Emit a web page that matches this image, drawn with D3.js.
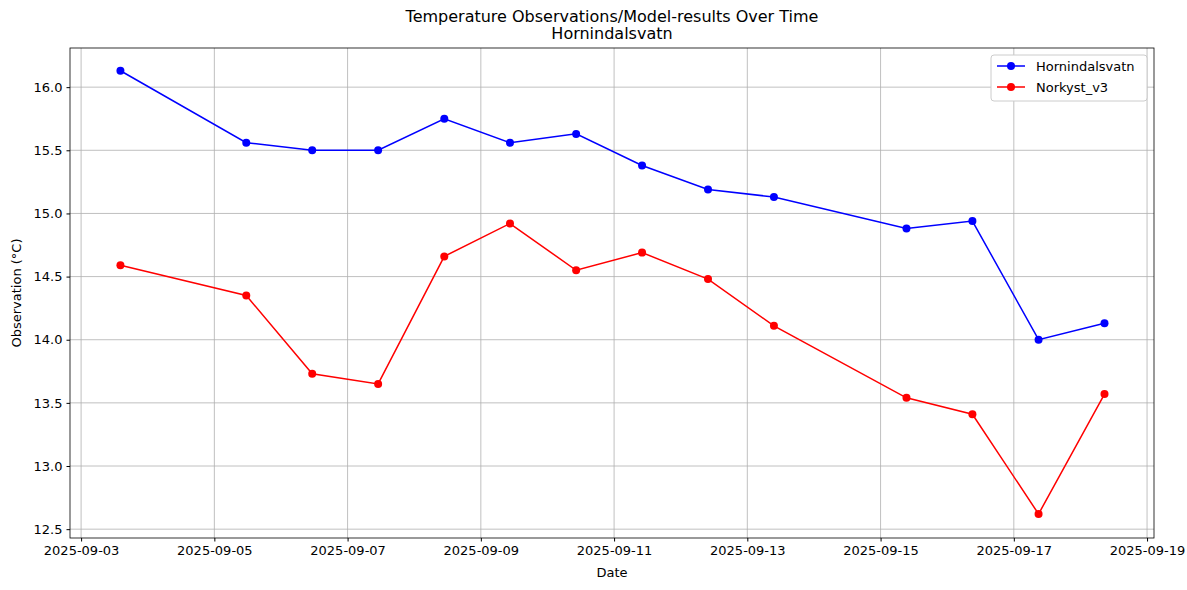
<!DOCTYPE html>
<html><head><meta charset="utf-8">
<script src="https://cdn.jsdelivr.net/npm/d3@7"></script>
<style>body{margin:0;background:#fff}text{font-family:"DejaVu Sans",sans-serif;fill:#000}</style>
</head><body><svg id="c" width="1187" height="590"></svg>
<script>
const dates=["2025-09-03T14:10","2025-09-05T11:30","2025-09-06T11:15","2025-09-07T11:00","2025-09-08T10:50","2025-09-09T10:30","2025-09-10T10:20","2025-09-11T10:05","2025-09-12T09:50","2025-09-13T09:35","2025-09-15T09:20","2025-09-16T09:05","2025-09-17T08:55","2025-09-18T08:40"];
const horn=[16.13,15.56,15.50,15.50,15.75,15.56,15.63,15.38,15.19,15.13,14.88,14.94,14.00,14.13];
const nork=[14.59,14.35,13.73,13.65,14.66,14.92,14.55,14.69,14.48,14.11,13.54,13.41,12.62,13.57];
const xTicks=["2025-09-03","2025-09-05","2025-09-07","2025-09-09","2025-09-11","2025-09-13","2025-09-15","2025-09-17","2025-09-19"];
const yTicks=[12.5,13.0,13.5,14.0,14.5,15.0,15.5,16.0];
const series=[{name:"Hornindalsvatn",vals:horn,color:"#0000ff"},{name:"Norkyst_v3",vals:nork,color:"#ff0000"}];
const P=d3.utcParse("%Y-%m-%dT%H:%M"), PD=d3.utcParse("%Y-%m-%d");
const L=70,R=1154,T=48,B=538;
const x=d3.scaleUtc().domain([P("2025-09-02T20:00"),P("2025-09-19T02:30")]).range([L,R]);
const y=d3.scaleLinear().domain([12.43,16.31]).range([B,T]);
const svg=d3.select("#c");
svg.append("g").selectAll("line").data(xTicks).join("line").attr("x1",d=>x(PD(d))).attr("x2",d=>x(PD(d))).attr("y1",T).attr("y2",B).attr("stroke","#b0b0b0").attr("stroke-width",0.8);
svg.append("g").selectAll("line").data(yTicks).join("line").attr("y1",d=>y(d)).attr("y2",d=>y(d)).attr("x1",L).attr("x2",R).attr("stroke","#b0b0b0").attr("stroke-width",0.8);
const gx=svg.append("g").attr("transform",`translate(0,${B})`).call(d3.axisBottom(x).tickValues(xTicks.map(PD)).tickFormat(d3.utcFormat("%Y-%m-%d")).tickSize(3.5).tickPadding(4));
const gy=svg.append("g").attr("transform",`translate(${L},0)`).call(d3.axisLeft(y).tickValues(yTicks).tickFormat(d3.format(".1f")).tickSize(3.5).tickPadding(4));
[gx,gy].forEach(g=>{g.select(".domain").remove();g.selectAll("text").style("font-size","13px").style("font-family","DejaVu Sans");});
svg.append("rect").attr("x",L).attr("y",T).attr("width",R-L).attr("height",B-T).attr("fill","none").attr("stroke","#000").attr("stroke-width",0.8);
const line=d3.line().x((d,i)=>x(P(dates[i]))).y(d=>y(d));
series.forEach(s=>{
 svg.append("path").attr("d",line(s.vals)).attr("fill","none").attr("stroke",s.color).attr("stroke-width",1.5);
 svg.append("g").selectAll("circle").data(s.vals).join("circle").attr("cx",(d,i)=>x(P(dates[i]))).attr("cy",d=>y(d)).attr("r",4).attr("fill",s.color);
});
svg.append("text").attr("x",612).attr("y",22).attr("text-anchor","middle").style("font-size","16px").text("Temperature Observations/Model-results Over Time");
svg.append("text").attr("x",612).attr("y",39).attr("text-anchor","middle").style("font-size","16px").text("Hornindalsvatn");
svg.append("text").attr("x",612).attr("y",577).attr("text-anchor","middle").style("font-size","13px").text("Date");
svg.append("text").attr("transform","translate(21,293) rotate(-90)").attr("text-anchor","middle").style("font-size","13px").text("Observation (°C)");
const lg=svg.append("g");
lg.append("rect").attr("x",991).attr("y",55).attr("width",156).attr("height",46).attr("rx",3).attr("fill","#fff").attr("stroke","#ccc");
series.forEach((s,i)=>{const yy=66+i*21;
 lg.append("line").attr("x1",997).attr("x2",1025).attr("y1",yy).attr("y2",yy).attr("stroke",s.color).attr("stroke-width",1.5);
 lg.append("circle").attr("cx",1011).attr("cy",yy).attr("r",4).attr("fill",s.color);
 lg.append("text").attr("x",1036).attr("y",yy+4.5).style("font-size","13px").text(s.name);});
</script></body></html>
